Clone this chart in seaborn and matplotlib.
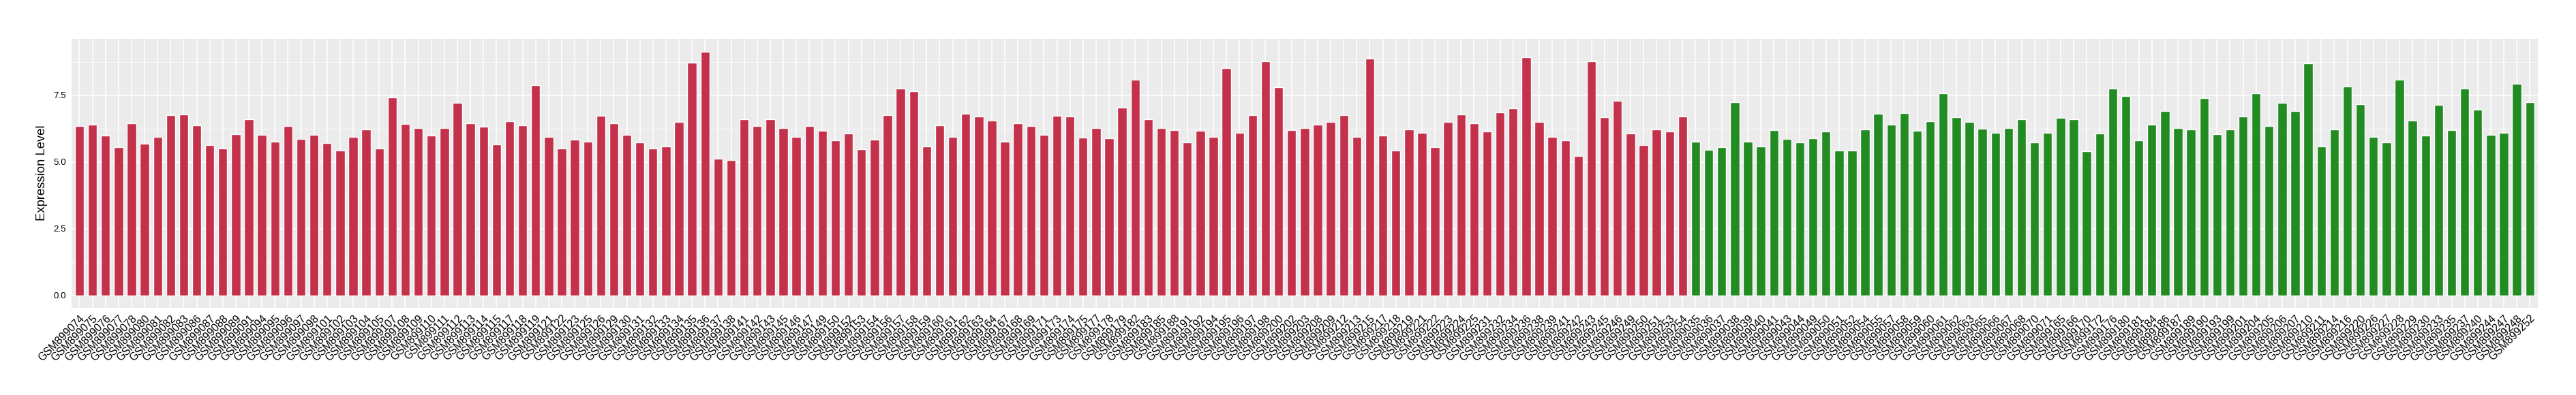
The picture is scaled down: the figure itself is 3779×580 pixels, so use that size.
import matplotlib
matplotlib.use("Agg")
import matplotlib.pyplot as plt
import seaborn as sns
import pandas as pd
import numpy as np

red_ids = ["074","075","076","077","078","080","081","082","083","086","087","088","089","091",
           "094","095","096","097","098","101","102","103","104","105","107","108","109","110",
           "111","112","113","114","115","117","118","119","121","122","123","125","126","129",
           "130","131","132","133","134","135","136","137","138","141","142","143","145","146",
           "147","149","150","152","153","154","156","157","158","159","160","161","162","163",
           "164","167","168","169","171","173","174","175","177","178","179","182","183","185",
           "188","191","192","194","195","196","197","198","200","202","203","208","209","212",
           "213","215","217","218","219","221","222","223","224","225","231","232","234","236",
           "238","239","241","242","243","245","246","249","250","251","253","254"]
red_values = [6.34,6.39,5.98,5.55,6.46,5.68,5.93,6.75,6.77,6.37,5.62,5.50,6.03,6.59,
              6.01,5.77,6.34,5.85,6.01,5.70,5.42,5.93,6.21,5.50,7.43,6.42,6.26,5.98,
              6.26,7.21,6.46,6.31,5.65,6.52,6.37,7.87,5.93,5.50,5.83,5.75,6.72,6.44,
              6.01,5.73,5.50,5.58,6.49,8.71,9.14,5.11,5.08,6.59,6.34,6.59,6.26,5.93,
              6.34,6.16,5.80,6.06,5.47,5.83,6.75,7.76,7.66,5.59,6.37,5.95,6.80,6.70,
              6.54,5.77,6.44,6.34,6.01,6.72,6.70,5.91,6.28,5.88,7.03,8.08,6.59,6.26,
              6.19,5.73,6.16,5.95,8.51,6.08,6.75,8.76,7.79,6.19,6.28,6.39,6.49,6.75,
              5.95,8.87,5.98,5.42,6.21,6.08,5.55,6.49,6.77,6.44,6.13,6.85,7.00,8.92,
              6.49,5.93,5.80,5.22,8.76,6.67,7.28,6.06,5.62,6.21,6.13,6.70]

green_ids = ["035","036","037","038","039","040","041","043","044","049","050","051","052","054",
             "055","057","058","059","060","061","062","063","065","066","067","068","070","071",
             "165","166","170","172","176","180","181","184","186","187","189","190","193","199",
             "201","204","205","206","207","210","211","214","216","220","226","227","228","229",
             "230","233","235","237","240","244","247","248","252"]
green_values = [5.77,5.44,5.55,7.25,5.75,5.59,6.19,5.85,5.73,5.88,6.13,5.42,5.42,6.21,
                6.80,6.39,6.82,6.16,6.52,7.57,6.67,6.49,6.24,6.08,6.28,6.59,5.73,6.08,
                6.64,6.59,5.40,6.06,7.76,7.46,5.80,6.39,6.90,6.26,6.21,7.39,6.03,6.21,
                6.70,7.57,6.34,7.21,6.92,8.69,5.58,6.21,7.82,7.15,5.93,5.73,8.08,6.54,
                5.98,7.13,6.19,7.75,6.95,6.01,6.08,7.92,7.23]

groups = ["Group1", "Group2"]
colors = {"Group1": "#C4314B", "Group2": "#228B22"}

samples = ["GSM899" + s for s in red_ids] + ["GSM899" + s for s in green_ids]
values = red_values + green_values
grp = [groups[0]] * len(red_ids) + [groups[1]] * len(green_ids)
df = pd.DataFrame({"Sample": samples, "Expression": values, "Group": grp})

sns.set_theme(style="darkgrid")
plt.rcParams["font.family"] = ["Liberation Sans", "DejaVu Sans"]

fig = plt.figure(figsize=(37.8, 5.8), dpi=100)
ax = fig.add_axes([105/3780, 1 - 451.7/580, (3722.7 - 105)/3780, (451.7 - 56.7)/580])
ax.set_facecolor("#EBEBEB")

sns.barplot(data=df, x="Sample", y="Expression", hue="Group", order=samples,
            palette=colors, dodge=False, width=0.7, saturation=1, legend=False, ax=ax,
            zorder=3)

n = len(samples)
ax.set_xlim(-0.6, n - 0.4)
ax.set_ylim(-0.46, 9.62)
ax.set_yticks([0, 2.5, 5.0, 7.5])
ax.set_yticklabels(["0.0", "2.5", "5.0", "7.5"])
ax.set_yticks([1.25, 3.75, 6.25, 8.75], minor=True)
ax.grid(which="major", color="white", linewidth=1.1, zorder=0)
ax.grid(which="minor", axis="y", color="white", linewidth=0.55, zorder=0)
ax.set_axisbelow(True)
for sp in ax.spines.values():
    sp.set_visible(False)

ax.tick_params(axis="both", which="major", length=3.8, width=0.8, color="#333333",
               direction="out")
ax.tick_params(axis="y", which="minor", length=0)
ax.tick_params(axis="x", labelsize=11.3, labelcolor="black", pad=2)
ax.tick_params(axis="y", labelsize=9.6, labelcolor="black", pad=2)
for lab in ax.get_xticklabels():
    lab.set_rotation(45)
    lab.set_ha("right")
    lab.set_va("top")
    lab.set_rotation_mode("anchor")

ax.set_xlabel("")
ax.set_ylabel("Expression Level", fontsize=13.3, color="black", labelpad=6)

fig.savefig("out.png", dpi=100, facecolor="white")
